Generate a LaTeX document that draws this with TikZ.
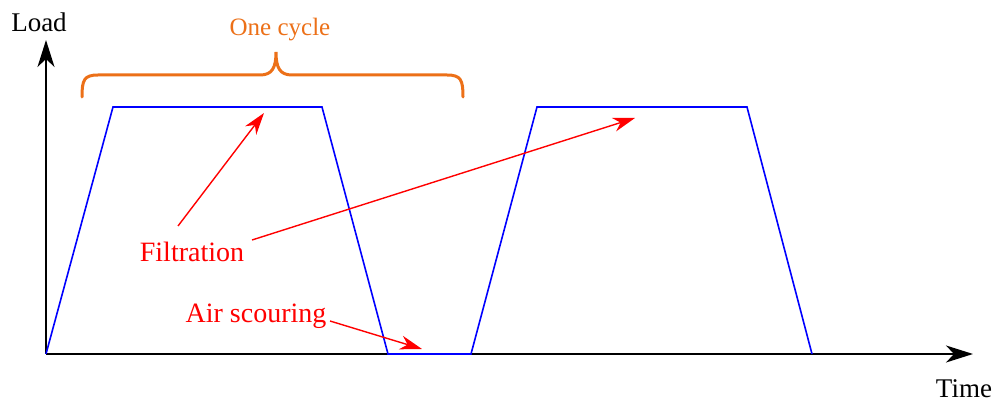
\documentclass[tikz,border=0pt]{standalone}
\usepackage{fontspec}
\setmainfont{Liberation Serif}
\usetikzlibrary{arrows.meta}
\definecolor{cyc}{RGB}{236,112,24}
\begin{document}
\begin{tikzpicture}[x=1pt,y=-1pt,
  axis/.style={line width=1.5pt,-{Stealth[length=27pt,width=17pt,inset=8pt]}},
  curve/.style={blue,line width=1.6pt,line join=miter},
  lbl/.style={red,font=\fontsize{28}{30}\selectfont,inner sep=0pt},
  ptr/.style={red,line width=1.4pt,-{Stealth[length=22pt,width=14pt,inset=7pt]}}]
\useasboundingbox (0,0) rectangle (997,403);
\coordinate (O) at (46,354);
\coordinate (Ytop) at (46,40);
\coordinate (Xend) at (973,354);
\draw[axis] (O) -- (Ytop);
\draw[axis] (O) -- (Xend);
\node[font=\fontsize{27}{29}\selectfont,inner sep=0pt] (load) at (39,22) {Load};
\node[font=\fontsize{27}{29}\selectfont,inner sep=0pt] (time) at (964,389) {Time};
\draw[curve] (O) -- (113,107) -- (322,107) -- (388,354) -- (471,354) -- (537,107) -- (747,107) -- (812,354);
\draw[cyc,line width=3pt,line cap=round]
  (82,97) .. controls (82,80) and (84,75) .. (98,75) -- (260,75)
  .. controls (272,75) and (276,68) .. (276,52)
  .. controls (276,68) and (280,75) .. (292,75) -- (447,75)
  .. controls (461,75) and (463,80) .. (463,97);
\node[cyc,font=\fontsize{25}{27}\selectfont,inner sep=0pt] (cycle) at (280,30) {One cycle};
\node[lbl] (filt) at (192,252) {Filtration};
\node[lbl] (air) at (256,316) {Air scouring};
\coordinate (f1) at (264,113);
\coordinate (f2) at (635,118);
\coordinate (a1) at (422,349);
\draw[ptr] (178,226) -- (f1);
\draw[ptr] (252,240) -- (f2);
\draw[ptr] (330,321) -- (a1);
\end{tikzpicture}
\end{document}
